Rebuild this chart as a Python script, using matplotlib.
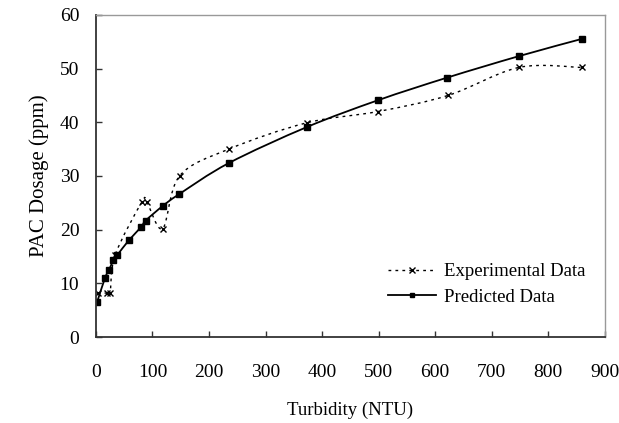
import numpy as np
import matplotlib.pyplot as plt
from matplotlib.path import Path
from matplotlib.patches import PathPatch

# values
exp_turbidity = [3, 19, 25, 34, 81, 90, 118, 148, 235, 373, 499, 623, 748, 859]
exp_dosage = [8.2, 8.2, 8.2, 15.3, 25.1, 25.1, 20.2, 30.0, 35.0, 39.9, 42.0, 45.0, 50.2, 50.2]

pred_turbidity = [2, 16, 23, 31, 38, 58, 80, 88, 118, 147, 235, 373, 499, 621, 748, 859]
pred_dosage = [6.5, 11.0, 12.5, 14.3, 15.3, 18.0, 20.5, 21.7, 24.4, 26.6, 32.4, 39.1, 44.1, 48.3, 52.3, 55.5]

plt.rcParams['font.family'] = ['Liberation Serif', 'DejaVu Serif']


def smooth_path(xs, ys):
    # Excel-style smoothed line: cubic Bezier through every point
    pts = np.column_stack([xs, ys]).astype(float)
    n = len(pts)
    verts = [pts[0]]
    codes = [Path.MOVETO]
    for i in range(n - 1):
        p0 = pts[i - 1] if i > 0 else pts[i]
        p1 = pts[i]
        p2 = pts[i + 1]
        p3 = pts[i + 2] if i + 2 < n else pts[i + 1]
        c1 = p1 + (p2 - p0) / 6.0
        c2 = p2 - (p3 - p1) / 6.0
        verts += [c1, c2, p2]
        codes += [Path.CURVE4] * 3
    return Path(verts, codes)


fig = plt.figure(figsize=(6.19, 4.23), dpi=100)
ax = fig.add_axes([0.155, 0.203, 0.822, 0.762])

ax.add_patch(PathPatch(smooth_path(exp_turbidity, exp_dosage), fill=False,
                       edgecolor='black', lw=1.0, linestyle=(0, (2, 3))))
ax.add_patch(PathPatch(smooth_path(pred_turbidity, pred_dosage), fill=False,
                       edgecolor='black', lw=1.3))
ax.plot(exp_turbidity, exp_dosage, linestyle='none', marker='x', ms=5, mew=1.0, color='black')
ax.plot(pred_turbidity, pred_dosage, linestyle='none', marker='s', ms=4.5, color='black')

# legend handles
ax.plot([], [], color='black', lw=1.0, linestyle=(0, (2, 3)), marker='x', ms=4, label='Experimental Data')
ax.plot([], [], color='black', lw=1.3, marker='s', ms=3.5, label='Predicted Data')
ax.legend(loc='lower right', bbox_to_anchor=(0.995, 0.045), frameon=False, fontsize=13.5,
          handlelength=2.6, handletextpad=0.4, labelspacing=0.45)

ax.set_xlim(0, 900)
ax.set_ylim(0, 60)
ax.set_xticks(np.arange(0, 901, 100))
ax.set_yticks(np.arange(0, 61, 10))
ax.tick_params(direction='in', length=4, width=1, labelsize=14, colors='#333333',
               labelcolor='black')
ax.tick_params(axis='x', pad=19)
ax.tick_params(axis='y', pad=12)
ax.set_xlabel('Turbidity (NTU)', fontsize=13.5, labelpad=15)
ax.set_ylabel('PAC Dosage (ppm)', fontsize=15, labelpad=8)

for side in ['top', 'right']:
    ax.spines[side].set_color('#999999')
    ax.spines[side].set_linewidth(1.0)
for side in ['left', 'bottom']:
    ax.spines[side].set_color('#333333')
    ax.spines[side].set_linewidth(1.3)

fig.savefig('out.png', dpi=100)
